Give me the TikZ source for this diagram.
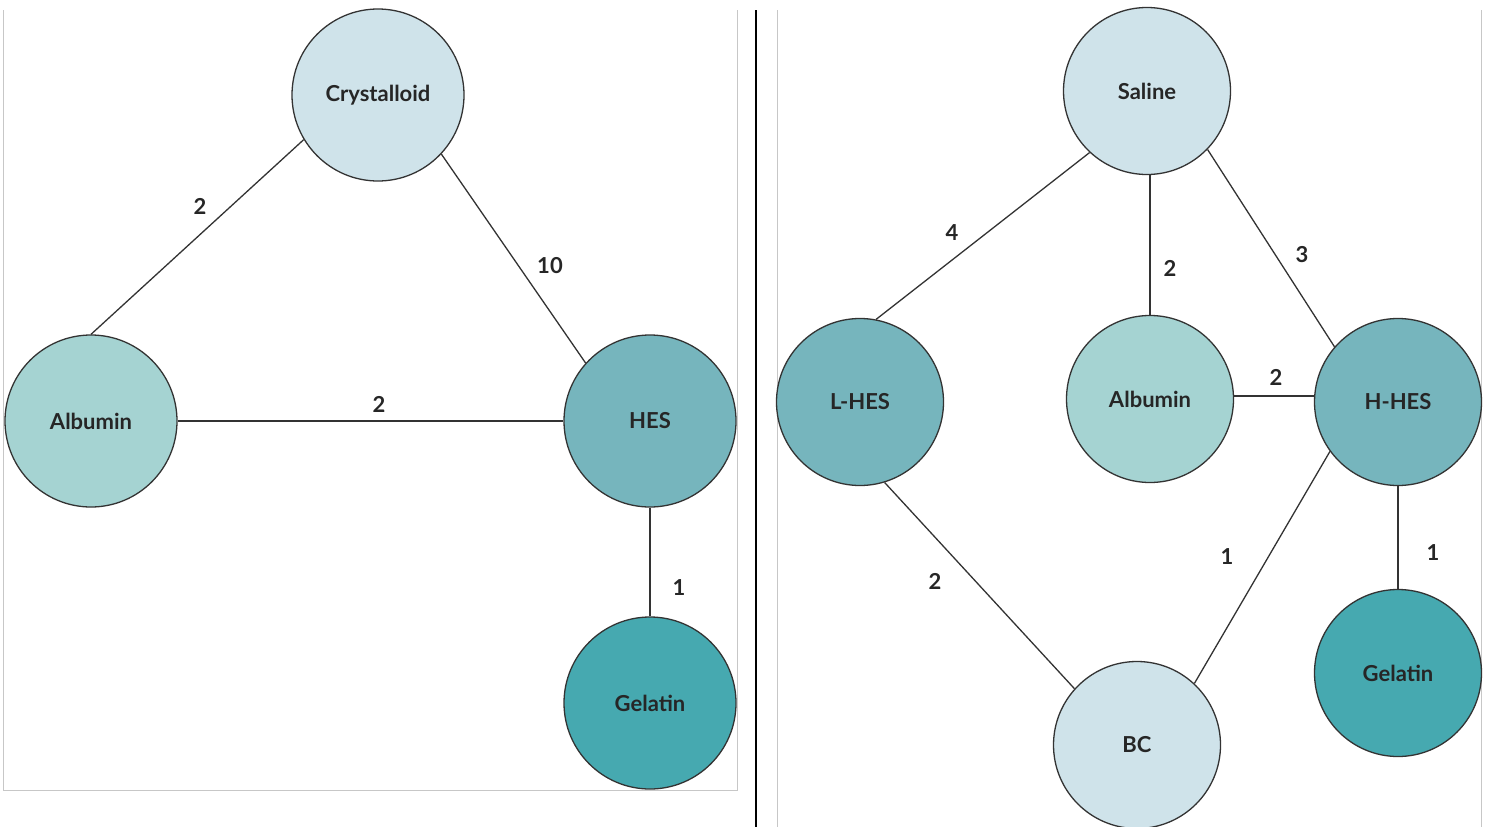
\documentclass[tikz,border=0pt]{standalone}
\usepackage{fontspec}
\setmainfont{Lato}
\usepackage{xcolor}
\usetikzlibrary{positioning}
\definecolor{pale}{HTML}{CFE3EA}
\definecolor{albu}{HTML}{A5D3D2}
\definecolor{hes}{HTML}{76B5BD}
\definecolor{gela}{HTML}{46A9B0}
\definecolor{ink}{HTML}{333333}

\begin{document}
\begin{tikzpicture}[x=1pt,y=-1pt,font=\fontsize{22}{26}\selectfont\bfseries]
\tikzset{fluid/.style={circle,draw=ink,line width=1.3pt,inner sep=0pt,minimum size=#1,text=black!85},
fluid/.default=172pt,
link/.style={line width=1.3pt,draw=ink},
wt/.style={text=black!85},
frame/.style={line width=1pt,draw=black!22}}
\useasboundingbox (0,0) rectangle (1489,827);
% panel frames
\draw[frame] (3,10)--(3,790)--(737,790)--(737,10);
\draw[frame] (777,10)--(777,827);
\draw[frame] (1481,10)--(1481,827);
\draw[line width=2pt,black] (756,10)--(756,827);

% left network
\node[fluid,fill=pale] (cry) at (378,95){Crystalloid};
\node[fluid,fill=albu] (alb) at (91,421){Albumin};
\node[fluid,fill=hes] (hes) at (650,421){HES};
\node[fluid,fill=gela] (gel) at (650,703){Gelatin};
\draw[link] (cry.211.5)--(alb.north);
\draw[link] (cry.-43.6)--(hes.138.3);
\draw[link] (alb.east)--(hes.west);
\draw[link] (hes.south)--(gel.north);
\node[wt] (w1) at (200,206){2};
\node[wt] (w2) at (550,266){10};
\node[wt] (w3) at (379,404){2};
\node[wt] (w4) at (679,588){1};

% right network
\node[fluid=167pt,fill=pale] (sal) at (1147,91){Saline};
\node[fluid=167pt,fill=hes] (lhes) at (860,402){L-HES};
\node[fluid=167pt,fill=albu] (alb2) at (1150,399){Albumin};
\node[fluid=167pt,fill=hes] (hhes) at (1398,402){H-HES};
\node[fluid=167pt,fill=gela] (gel2) at (1398,673){Gelatin};
\node[fluid=167pt,fill=pale] (bc) at (1137,745){BC};
\draw[link] (sal.227.4)--(lhes.79.5);
\draw[link] (alb2.north|-sal.south)--(alb2.north);
\draw[link] (sal.-44.5)--(hhes.139);
\draw[link] (alb2.2.8)--(alb2.2.8-|hhes.west);
\draw[link] (lhes.-73.5)--(bc.138);
\draw[link] (hhes.216)--(bc.47);
\draw[link] (hhes.south)--(gel2.north);
\node[wt] (v1) at (952,233){4};
\node[wt] (v2) at (1170,268){2};
\node[wt] (v3) at (1302,255){3};
\node[wt] (v4) at (1276,377){2};
\node[wt] (v5) at (935,581){2};
\node[wt] (v6) at (1227,557){1};
\node[wt] (v7) at (1433,553){1};
\end{tikzpicture}
\end{document}
